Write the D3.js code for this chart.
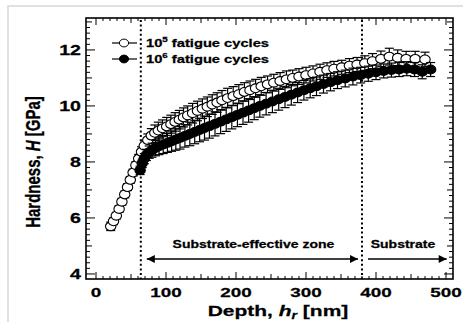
<!DOCTYPE html>
<html>
<head>
<meta charset="utf-8">
<script src="https://cdn.jsdelivr.net/npm/d3@7"></script>
<style>
  html, body { margin: 0; padding: 0; background: #fff; }
  svg { display: block; }
  text { font-family: "Liberation Sans", Arial, sans-serif; font-weight: bold; fill: #000; stroke: #000; stroke-width: 0.25; }
</style>
</head>
<body>
<svg id="chart" width="463" height="322"></svg>
<script>
// Hardness vs. residual depth, two fatigue histories
const depth5 = [21,25,29,33,37,41,45,49,53,57,61,65,69,74,79,84,89,95,101,107,
  113,119,125,131,138,145,152,159,166,173,180,188,196,204,212,220,228,236,245,254,
  263,272,281,290,300,310,320,330,340,351,362,373,384,395,407,419,431,443,456,470];
const hard5 = [5.7,5.88,6.08,6.32,6.58,6.84,7.1,7.36,7.62,7.88,
  8.12,8.36,8.58,8.78,8.94,9.04,9.12,9.2,9.27,9.35,
  9.43,9.51,9.59,9.66,9.74,9.82,9.9,9.97,10.05,10.12,
  10.2,10.28,10.35,10.42,10.5,10.56,10.63,10.7,10.77,10.83,
  10.89,10.95,11.0,11.05,11.1,11.16,11.22,11.28,11.33,11.38,
  11.44,11.48,11.53,11.6,11.68,11.76,11.72,11.68,11.68,11.66];
const err5 = [0.15,0.12,0.12,0.12,0.12,0.12,0.12,0.12,0.12,0.13,
  0.15,0.18,0.2,0.22,0.25,0.28,0.3,0.3,0.32,0.32,
  0.33,0.33,0.34,0.34,0.35,0.35,0.35,0.35,0.35,0.35,
  0.35,0.35,0.34,0.34,0.33,0.33,0.32,0.32,0.3,0.3,
  0.3,0.3,0.28,0.28,0.28,0.27,0.27,0.26,0.26,0.25,
  0.25,0.25,0.26,0.27,0.28,0.3,0.28,0.27,0.27,0.26];

const depth6 = [63,66,69,72,76,80,85,90,96,102,108,114,120,127,134,141,148,155,162,170,
  178,186,194,202,210,218,226,234,243,252,261,270,279,288,297,306,315,325,335,345,
  356,367,378,389,400,411,422,433,444,455,466,478];
const hard6 = [7.7,7.95,8.12,8.25,8.35,8.42,8.5,8.56,8.62,8.68,
  8.74,8.8,8.86,8.93,9.0,9.07,9.14,9.21,9.28,9.36,
  9.44,9.52,9.6,9.68,9.76,9.84,9.92,10.0,10.08,10.16,
  10.24,10.32,10.4,10.48,10.56,10.63,10.7,10.78,10.85,10.92,
  10.98,11.05,11.1,11.15,11.2,11.25,11.28,11.3,11.33,11.3,
  11.22,11.3];
const err6 = [0.15,0.15,0.18,0.2,0.22,0.25,0.28,0.3,0.32,0.34,
  0.36,0.38,0.4,0.4,0.42,0.42,0.42,0.43,0.43,0.43,
  0.43,0.43,0.42,0.42,0.42,0.42,0.41,0.4,0.4,0.4,
  0.39,0.38,0.37,0.36,0.35,0.34,0.33,0.32,0.31,0.3,
  0.3,0.3,0.28,0.27,0.26,0.25,0.25,0.25,0.25,0.25,
  0.25,0.25];

const xTickLabels = [0, 100, 200, 300, 400, 500];
const yTickLabels = [4, 6, 8, 10, 12];
const zoneBounds = [64, 380];
const legendCycles = ["5", "6"];

const svg = d3.select("#chart");
const W = 463, H = 322;
const m = { left: 86, right: 453, top: 18, bottom: 279 };
const SX = 1.4; // horizontal text stretch

const x = d3.scaleLinear().domain([-14.3, 510]).range([m.left, m.right]);
const y = d3.scaleLinear().domain([3.82, 13.14]).range([m.bottom, m.top]);

// light outer border
svg.append("path").attr("d", `M8,${H} L8,6 L${W},6`).attr("fill", "none")
  .attr("stroke", "#d8d8d8").attr("stroke-width", 1.5);

function stretchedText(parent, tx, ty, anchor, size, rotate) {
  const g = parent.append("g")
    .attr("transform", `translate(${tx},${ty}) scale(${SX},1)` + (rotate ? ` rotate(${rotate})` : ""));
  return g.append("text").attr("text-anchor", anchor).style("font-size", size + "px");
}

// ticks (inward on all four sides)
const xMinor = d3.range(0, 510, 10);
const yMinor = d3.range(4, 13.2, 0.2).map(v => +v.toFixed(1));
const tickG = svg.append("g").attr("stroke", "#000").attr("stroke-width", 1);
xMinor.forEach(v => {
  const len = v % 100 === 0 ? 7 : (v % 50 === 0 ? 5 : 3);
  const px = x(v);
  tickG.append("line").attr("x1", px).attr("x2", px).attr("y1", m.bottom).attr("y2", m.bottom - len);
  tickG.append("line").attr("x1", px).attr("x2", px).attr("y1", m.top).attr("y2", m.top + len);
});
yMinor.forEach(v => {
  const r = Math.round(v * 10);
  const len = r % 20 === 0 ? 9 : (r % 10 === 0 ? 6 : 4);
  const py = y(v);
  tickG.append("line").attr("x1", m.left).attr("x2", m.left + len).attr("y1", py).attr("y2", py);
  tickG.append("line").attr("x1", m.right).attr("x2", m.right - len).attr("y1", py).attr("y2", py);
});

// frame
svg.append("rect").attr("x", m.left).attr("y", m.top)
  .attr("width", m.right - m.left).attr("height", m.bottom - m.top)
  .attr("fill", "none").attr("stroke", "#000").attr("stroke-width", 1.6);

// tick labels
xTickLabels.forEach(v => stretchedText(svg, x(v), 297, "middle", 13.5).text(v));
yTickLabels.forEach(v => stretchedText(svg, 81, y(v) + 5, "end", 14).text(v));

// axis titles
const xt = stretchedText(svg, 278, 316, "middle", 15);
xt.append("tspan").text("Depth, ");
xt.append("tspan").style("font-style", "italic").text("h");
xt.append("tspan").attr("dy", 3).style("font-size", "10px").style("font-style", "italic").text("r");
xt.append("tspan").attr("dy", -3).text(" [nm]");

const yt = stretchedText(svg, 40, 162, "middle", 15, -90);
yt.append("tspan").text("Hardness, ");
yt.append("tspan").style("font-style", "italic").text("H");
yt.append("tspan").text(" [GPa]");

// zone boundaries
zoneBounds.forEach(d => {
  svg.append("line").attr("x1", x(d)).attr("x2", x(d)).attr("y1", m.top + 2).attr("y2", m.bottom)
    .attr("stroke", "#000").attr("stroke-width", 2).attr("stroke-dasharray", "2,2.6");
});

// zone arrows
const defs = svg.append("defs");
defs.append("marker").attr("id", "ah").attr("viewBox", "0 0 10 10").attr("refX", 10).attr("refY", 5)
  .attr("markerWidth", 11).attr("markerHeight", 8).attr("markerUnits", "userSpaceOnUse")
  .attr("orient", "auto-start-reverse")
  .append("path").attr("d", "M0,0 L10,5 L0,10 Z").attr("fill", "#000");
const arrowY = 259;
svg.append("line").attr("x1", x(zoneBounds[0]) + 6).attr("x2", x(zoneBounds[1]) - 4)
  .attr("y1", arrowY).attr("y2", arrowY).attr("stroke", "#000").attr("stroke-width", 1.6)
  .attr("marker-start", "url(#ah)").attr("marker-end", "url(#ah)");
svg.append("line").attr("x1", x(zoneBounds[1]) + 6).attr("x2", x(501))
  .attr("y1", arrowY).attr("y2", arrowY).attr("stroke", "#000").attr("stroke-width", 1.6)
  .attr("marker-end", "url(#ah)");
stretchedText(svg, (x(zoneBounds[0]) + x(zoneBounds[1])) / 2 + 2, 248, "middle", 10).text("Substrate-effective zone");
stretchedText(svg, 403, 248, "middle", 10).text("Substrate");

// data series
const rx = 5.2, ry = 4.4, cap = 4.5;
function drawSeries(depths, vals, errs, fill) {
  const g = svg.append("g");
  const pts = depths.map((d, i) => ({ d, v: vals[i], e: errs[i] }));
  const eb = g.append("g").attr("stroke", "#000").attr("stroke-width", 1.2);
  pts.forEach(p => {
    const px = x(p.d), y0 = y(p.v - p.e), y1 = y(p.v + p.e);
    eb.append("line").attr("x1", px).attr("x2", px).attr("y1", y0).attr("y2", y1);
    eb.append("line").attr("x1", px - cap).attr("x2", px + cap).attr("y1", y0).attr("y2", y0);
    eb.append("line").attr("x1", px - cap).attr("x2", px + cap).attr("y1", y1).attr("y2", y1);
  });
  g.selectAll("ellipse").data(pts).join("ellipse")
    .attr("cx", p => x(p.d)).attr("cy", p => y(p.v))
    .attr("rx", rx).attr("ry", ry)
    .attr("fill", fill).attr("stroke", "#000").attr("stroke-width", 1.1);
}
drawSeries(depth5, hard5, err5, "#fff");
drawSeries(depth6, hard6, err6, "#000");

// legend
const leg = svg.append("g");
[["#fff", 43], ["#000", 59]].forEach(([fill, ly], i) => {
  leg.append("line").attr("x1", 112).attr("x2", 137).attr("y1", ly).attr("y2", ly)
    .attr("stroke", "#000").attr("stroke-width", 1.2);
  leg.append("ellipse").attr("cx", 124).attr("cy", ly).attr("rx", 4.6).attr("ry", 3.9)
    .attr("fill", fill).attr("stroke", "#000");
  const t = stretchedText(leg, 146, ly + 4, "start", 10.5);
  t.append("tspan").text("10");
  t.append("tspan").attr("dy", -5).style("font-size", "7px").text(legendCycles[i]);
  t.append("tspan").attr("dy", 5).text(" fatigue cycles");
});
</script>
</body>
</html>
